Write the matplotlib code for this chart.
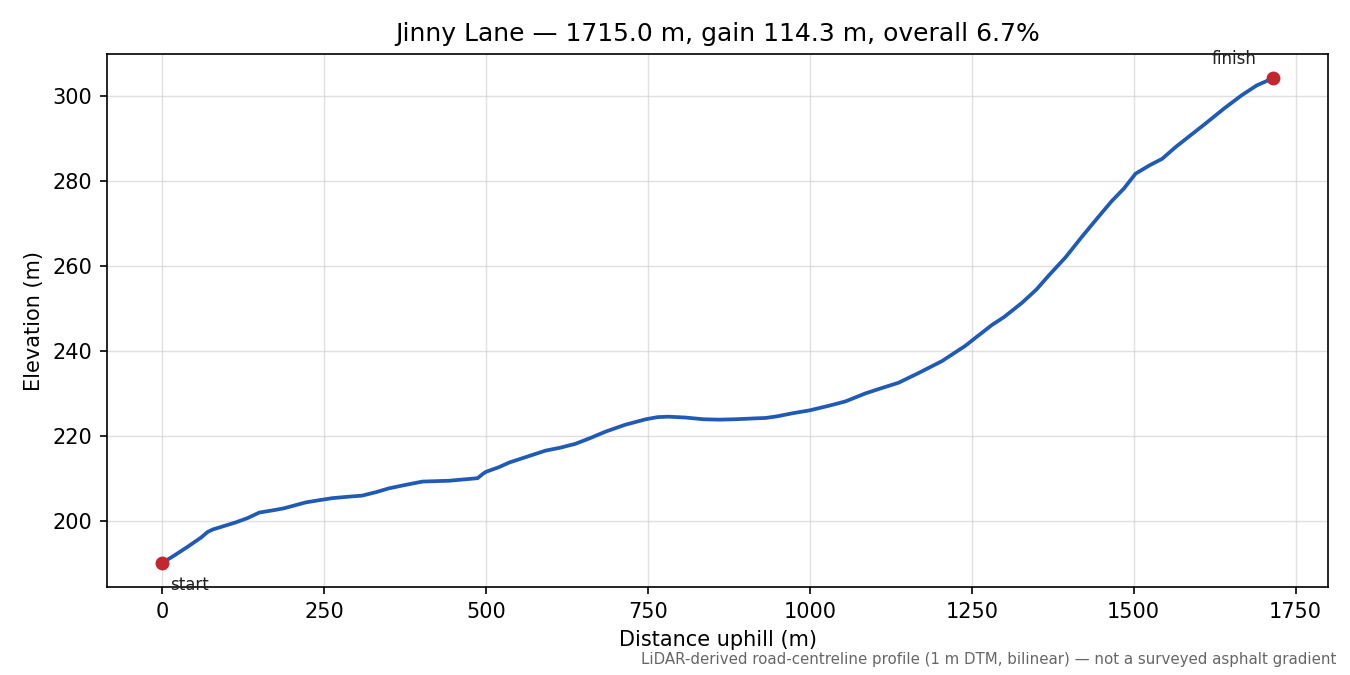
import matplotlib
matplotlib.use("Agg")
import matplotlib.pyplot as plt

road_name = "Jinny Lane"
distance_m = [0, 20, 40, 60, 70, 78, 95, 114, 132, 150, 170, 188, 205, 222, 242, 263, 285,
              309, 330, 350, 375, 402, 422, 443, 465, 487, 495, 500, 520, 536, 560,
              592, 615, 638, 660, 685, 715, 747, 765, 782, 808, 835, 860, 885, 901,
              915, 932, 950, 973, 1000, 1030, 1055, 1086, 1110, 1137, 1168, 1204,
              1240, 1260, 1281, 1300, 1328, 1350, 1369, 1395, 1420, 1445, 1466,
              1485, 1503, 1525, 1544, 1565, 1585, 1610, 1640, 1667, 1690, 1715]
elevation_m = [190.0, 191.9, 193.9, 196.0, 197.3, 197.9, 198.7, 199.6, 200.6, 201.9, 202.4, 202.9,
               203.6, 204.3, 204.8, 205.3, 205.6, 205.9, 206.7, 207.6, 208.4, 209.2,
               209.3, 209.4, 209.7, 210.0, 211.0, 211.5, 212.6, 213.7, 214.9, 216.5,
               217.2, 218.1, 219.4, 221.0, 222.6, 223.9, 224.4, 224.5, 224.3, 223.9,
               223.8, 223.9, 224.0, 224.1, 224.2, 224.6, 225.3, 226.0, 227.1, 228.1,
               230.0, 231.2, 232.5, 234.8, 237.6, 241.2, 243.6, 246.1, 248.0, 251.4,
               254.5, 257.8, 262.1, 266.9, 271.5, 275.3, 278.3, 281.8, 283.8, 285.3,
               288.1, 290.5, 293.5, 297.2, 300.3, 302.6, 304.3]

total_len = 1715.0
gain = 114.3
overall = 6.7

fig, ax = plt.subplots(figsize=(9, 4.5), dpi=150)
fig.subplots_adjust(left=0.079, right=0.984, top=0.92, bottom=0.13)

ax.plot(distance_m, elevation_m, color="#1f5bb5", linewidth=1.8, zorder=3)
ax.scatter([distance_m[0], distance_m[-1]], [elevation_m[0], elevation_m[-1]],
           color="#c1272d", s=32, zorder=4)
ax.annotate("start", (distance_m[0], elevation_m[0]), xytext=(4, -6),
            textcoords="offset points", ha="left", va="top", fontsize=8, color="#222222")
ax.annotate("finish", (distance_m[-1], elevation_m[-1]), xytext=(-8, 5),
            textcoords="offset points", ha="right", va="bottom", fontsize=8, color="#222222")

ax.grid(True, color="#cccccc", alpha=0.6, linewidth=0.7)
ax.set_axisbelow(True)
ax.set_xlabel("Distance uphill (m)")
ax.set_ylabel("Elevation (m)")
ax.set_title(f"{road_name} \u2014 {total_len:.1f} m, gain {gain:.1f} m, overall {overall:.1f}%",
             fontsize=12)

fig.text(0.99, 0.012,
         "LiDAR-derived road-centreline profile (1 m DTM, bilinear) \u2014 not a surveyed asphalt gradient",
         ha="right", va="bottom", fontsize=7.2, color="#666666")

fig.savefig("out.png", dpi=150)
